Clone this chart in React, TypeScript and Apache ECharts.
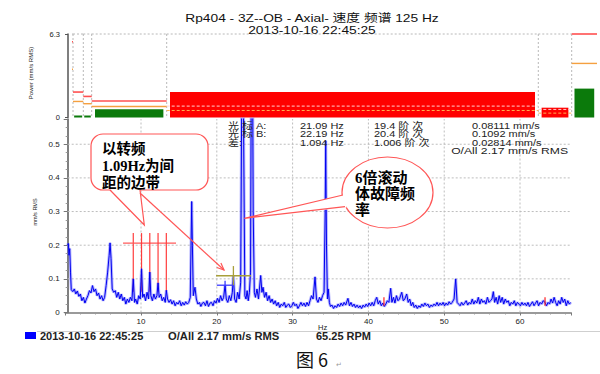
import React, { useEffect, useRef } from "react";
import * as echarts from "echarts";

const FONT = "Arial, 'Liberation Sans', 'Noto Sans CJK SC', sans-serif";
const CALLOUT_FONT = "'Liberation Serif', 'Noto Sans CJK SC', serif";
const CJK_FONT = "'Noto Sans CJK SC', sans-serif";

const chartTitle = "Rp404 - 3Z--OB - Axial- 速度 频谱 125 Hz";
const chartTime = "2013-10-16 22:45:25";
const overallText = "O/All 2.17 mm/s RMS";
const rpmText = "65.25 RPM";
const figureCaption = "图 6";
const topAxisName = "Power (mm/s RMS)";
const lowAxisName = "mm/s RMS";

// top "power band" panel
const bandStart = [4, 5, 15.3, 23.7, 98.7, 470.3, 503.7];
const bandEnd = [5, 15.3, 23.7, 98.7, 470.3, 503.7, 529];
const bandLevel = [0, 0.15, 0.15, 0.63, 1.92, 0.74, 2.18];
const bandAlert = [5.72, 1.92, 1.59, 1.24, 0.86, 0.61, 6.3];
const bandWarn = [3.64, 1.21, 1.04, 0.83, 0.53, 0.33, 4.08];
const powerMax = 6.3;

// spectrum [Hz, mm/s]
const spectrum: [number, number][] = [
  [0.33,0.2],[0.42,0.205],[0.5,0.17],[0.6,0.19],[0.7,0.12],[0.8,0.068],[1.0,0.062],[1.2,0.07],[1.4,0.055],[1.6,0.064],
  [1.8,0.048],[2.0,0.055],[2.2,0.035],[2.4,0.045],[2.6,0.028],[2.8,0.04],[3.0,0.05],[3.2,0.065],[3.4,0.058],[3.6,0.08],
  [3.8,0.062],[4.0,0.07],[4.2,0.05],[4.4,0.058],[4.6,0.04],[4.8,0.05],[5.0,0.035],[5.2,0.045],[5.4,0.08],[5.6,0.12],
  [5.8,0.17],[5.92,0.207],[6.05,0.16],[6.2,0.07],[6.4,0.06],[6.6,0.065],[6.8,0.045],[7.0,0.06],[7.2,0.04],[7.4,0.055],
  [7.6,0.035],[7.8,0.045],[8.0,0.025],[8.2,0.04],[8.4,0.03],[8.6,0.045],[8.8,0.035],[8.98,0.1],[9.15,0.03],[9.3,0.04],
  [9.5,0.025],[9.7,0.05],[9.9,0.04],[10.07,0.13],[10.22,0.045],[10.4,0.055],[10.6,0.035],[10.8,0.06],[11.0,0.04],[11.16,0.12],
  [11.3,0.05],[11.5,0.035],[11.7,0.055],[11.9,0.04],[12.1,0.05],[12.25,0.088],[12.4,0.045],[12.6,0.055],[12.8,0.035],[13.0,0.045],
  [13.2,0.03],[13.34,0.066],[13.5,0.04],[13.7,0.03],[13.9,0.038],[14.1,0.025],[14.3,0.035],[14.5,0.02],[14.7,0.03],[14.9,0.025],
  [15.1,0.035],[15.3,0.02],[15.5,0.03],[15.7,0.022],[15.9,0.032],[16.1,0.025],[16.3,0.03],[16.5,0.045],[16.6,0.2],[16.69,0.33],
  [16.78,0.2],[16.9,0.05],[17.12,0.075],[17.3,0.04],[17.5,0.025],[17.7,0.03],[17.9,0.018],[18.1,0.028],[18.3,0.03],[18.5,0.02],
  [18.7,0.035],[18.9,0.018],[19.1,0.028],[19.3,0.03],[19.5,0.02],[19.7,0.035],[19.9,0.028],[20.1,0.042],[20.3,0.03],[20.5,0.05],
  [20.7,0.035],[20.9,0.045],[21.09,0.081],[21.25,0.04],[21.45,0.03],[21.65,0.05],[21.85,0.035],[22.05,0.06],[22.19,0.109],[22.35,0.04],
  [22.55,0.03],[22.75,0.06],[22.95,0.04],[23.15,0.09],[23.3,0.7],[23.42,0.95],[23.55,0.5],[23.7,0.05],[23.85,0.04],[24.0,0.065],
  [24.15,0.035],[24.3,0.06],[24.45,0.12],[24.57,0.85],[24.68,0.95],[24.8,0.3],[24.95,0.06],[25.1,0.045],[25.3,0.07],[25.5,0.04],
  [25.79,0.11],[25.95,0.06],[26.1,0.075],[26.3,0.045],[26.5,0.06],[26.7,0.035],[26.9,0.05],[27.1,0.03],[27.3,0.04],[27.5,0.025],
  [27.7,0.035],[27.9,0.02],[28.1,0.03],[28.3,0.015],[28.5,0.025],[28.7,0.02],[28.9,0.03],[29.1,0.015],[29.3,0.022],[29.5,0.025],
  [29.7,0.015],[29.9,0.02],[30.1,0.03],[30.3,0.02],[30.5,0.025],[30.7,0.012],[30.9,0.02],[31.1,0.03],[31.3,0.02],[31.5,0.028],
  [31.7,0.018],[31.9,0.03],[32.1,0.02],[32.3,0.035],[32.5,0.05],[32.7,0.04],[32.96,0.106],[33.15,0.04],[33.35,0.03],[33.55,0.045],
  [33.75,0.035],[33.95,0.05],[34.15,0.06],[34.3,0.3],[34.37,0.51],[34.47,0.2],[34.6,0.04],[34.71,0.07],[34.85,0.03],[35.0,0.018],
  [35.2,0.022],[35.4,0.012],[35.6,0.02],[35.8,0.015],[36.0,0.025],[36.2,0.018],[36.4,0.028],[36.6,0.02],[36.8,0.03],[37.0,0.022],
  [37.3,0.042],[37.5,0.02],[37.7,0.03],[37.9,0.018],[38.1,0.025],[38.3,0.015],[38.5,0.022],[38.7,0.014],[38.9,0.02],[39.1,0.012],
  [39.3,0.022],[39.5,0.016],[39.7,0.025],[39.9,0.018],[40.1,0.028],[40.3,0.02],[40.5,0.03],[40.7,0.02],[40.9,0.035],[41.1,0.045],
  [41.3,0.025],[41.5,0.035],[41.7,0.02],[41.9,0.028],[42.1,0.018],[42.3,0.025],[42.5,0.035],[42.7,0.03],[42.94,0.072],[43.1,0.03],
  [43.3,0.045],[43.5,0.028],[43.7,0.05],[43.9,0.035],[44.1,0.04],[44.4,0.06],[44.6,0.035],[44.8,0.04],[45.05,0.055],[45.25,0.03],
  [45.45,0.04],[45.65,0.02],[45.85,0.03],[46.05,0.015],[46.25,0.022],[46.45,0.012],[46.65,0.02],[46.85,0.015],[47.05,0.025],[47.25,0.018],
  [47.45,0.028],[47.65,0.02],[47.85,0.025],[48.05,0.015],[48.25,0.022],[48.45,0.018],[48.65,0.025],[48.85,0.02],[49.05,0.03],[49.25,0.02],
  [49.45,0.028],[49.65,0.022],[49.85,0.03],[50.05,0.02],[50.25,0.028],[50.45,0.022],[50.65,0.032],[50.85,0.025],[51.05,0.03],[51.3,0.04],
  [51.52,0.1],[51.7,0.03],[51.9,0.025],[52.1,0.02],[52.3,0.03],[52.5,0.022],[52.7,0.028],[52.9,0.035],[53.1,0.022],[53.3,0.03],
  [53.5,0.025],[53.7,0.04],[53.9,0.025],[54.1,0.035],[54.3,0.028],[54.5,0.045],[54.7,0.025],[54.9,0.04],[55.1,0.03],[55.3,0.035],
  [55.5,0.025],[55.7,0.045],[55.9,0.03],[56.1,0.035],[56.3,0.04],[56.48,0.062],[56.65,0.03],[56.85,0.045],[57.05,0.025],[57.25,0.05],
  [57.45,0.03],[57.65,0.045],[57.85,0.025],[58.05,0.04],[58.25,0.03],[58.45,0.035],[58.65,0.02],[58.85,0.03],[59.05,0.025],[59.25,0.035],
  [59.45,0.02],[59.65,0.03],[59.85,0.025],[60.05,0.02],[60.25,0.03],[60.45,0.022],[60.65,0.028],[60.85,0.02],[61.05,0.03],[61.25,0.018],
  [61.45,0.025],[61.65,0.032],[61.85,0.02],[62.05,0.028],[62.25,0.035],[62.45,0.02],[62.65,0.03],[62.85,0.025],[63.05,0.035],[63.3,0.03],
  [63.5,0.02],[63.7,0.03],[63.9,0.025],[64.1,0.04],[64.3,0.028],[64.5,0.045],[64.7,0.03],[64.9,0.02],[65.1,0.035],[65.3,0.025],
  [65.5,0.045],[65.7,0.03],[65.9,0.04],[66.1,0.02],[66.3,0.035],[66.5,0.025],[66.7,0.03],
];
const freqMax = 66.7;
const magMax = 0.575;
const freqGridTicks = [10, 20, 30, 40, 50, 60];
const magGridTicks = [0.1, 0.2, 0.3, 0.4, 0.5];

// annotations in data units
const sidebandFreqs = [8.98, 10.07, 11.16, 12.25, 13.34];
const sidebandTop = 0.236;
const sidebandBottom = 0.062;
const sidebandBar = [7.63, 14.62, 0.206];
const cursorA = { freq: 21.09, value: 0.0811, from: 20.0, to: 22.1, tickTop: 0.094 };
const cursorB = { freq: 22.19, value: 0.1092, from: 19.9, to: 24.5, tickTop: 0.138, tickBottom: 0.081 };
const harmonicMarks = [42.05, 63.3];
const harmonicSpan = [0.02, 0.045];

const readoutRows = [
  ["光 标 A:", "21.09 Hz", "19.4 阶 次", "0.08111 mm/s"],
  ["光 标 B:", "22.19 Hz", "20.4 阶 次", "0.1092 mm/s"],
  ["差:", "1.094 Hz", "1.006 阶 次", "0.02814 mm/s"],
];
const calloutLeft = ["以转频", "1.09Hz为间", "距的边带"];
const calloutRight = ["6倍滚动", "体故障频", "率"];

function txt(text: string, x: number, y: number, o: any = {}) {
  return {
    type: "text",
    x,
    y,
    z: 100,
    scaleX: o.scaleX ?? 1,
    rotation: o.rotation ?? 0,
    style: {
      text,
      fontSize: o.size ?? 9,
      fontFamily: o.family ?? FONT,
      fontWeight: o.weight ?? "normal",
      fill: o.fill ?? "#222",
      align: o.align ?? "left",
      textAlign: o.align ?? "left",
      verticalAlign: "middle",
      textVerticalAlign: "middle",
    },
  };
}

function seg(p1: number[], p2: number[], stroke: string, lineWidth = 1, lineDash?: number[]) {
  return {
    type: "line",
    shape: { x1: p1[0], y1: p1[1], x2: p2[0], y2: p2[1] },
    style: { stroke, lineWidth, lineDash },
  };
}

function buildOption() {
  const CALLOUT = "#ff5656";
  const graphics: any[] = [];
  graphics.push(txt(chartTitle, 312, 18, { size: 11, scaleX: 1.25, align: "center", fill: "#111" }));
  graphics.push(txt(chartTime, 312, 30, { size: 11, scaleX: 1.25, align: "center", fill: "#111" }));
  graphics.push(txt(topAxisName, 31, 73, { size: 6, rotation: Math.PI / 2, align: "center" }));
  graphics.push(txt(lowAxisName, 35, 212, { size: 5.5, rotation: Math.PI / 2, align: "center" }));

  const cols = [228, 300, 374, 472];
  const rows = [125.5, 134, 142.5];
  readoutRows.forEach((r, i) =>
    r.forEach((t, j) => graphics.push(txt(t, cols[j], rows[i], { size: 9, scaleX: 1.22 })))
  );
  graphics.push(txt(overallText, 568, 151, { size: 9.5, scaleX: 1.28, align: "right" }));

  // left callout (rounded rectangle)
  graphics.push({ type: "rect", z: 100, shape: { x: 91, y: 134, width: 117, height: 56, r: 12 }, style: { fill: "#fff", stroke: CALLOUT, lineWidth: 1.2 } });
  graphics.push({ type: "polygon", z: 100, shape: { points: [[110, 189], [144.3, 225], [140, 189]] }, style: { fill: "#fff" } });
  graphics.push({ type: "polyline", z: 100, shape: { points: [[110, 190], [144.3, 225], [140, 190]] }, style: { stroke: CALLOUT, lineWidth: 1.2, fill: null } });
  calloutLeft.forEach((t, i) => graphics.push(txt(t, 102, 149 + i * 17, { size: 14.5, weight: "bold", family: CALLOUT_FONT, fill: "#000" })));
  graphics.push({ type: "line", z: 100, shape: { x1: 140, y1: 193, x2: 224, y2: 270 }, style: { stroke: CALLOUT, lineWidth: 1.2 } });
  graphics.push({ type: "polyline", z: 100, shape: { points: [[216.8, 267.5], [224, 270], [220.9, 263.1]] }, style: { stroke: CALLOUT, lineWidth: 1.2, fill: null } });

  // right callout (ellipse)
  graphics.push({ type: "ellipse", z: 100, shape: { cx: 387.5, cy: 192.5, rx: 45.5, ry: 35.5 }, style: { fill: "#fff", stroke: CALLOUT, lineWidth: 1.2 } });
  graphics.push({ type: "polygon", z: 100, shape: { points: [[344, 194.5], [244.3, 218.3], [346.5, 207.5]] }, style: { fill: "#fff" } });
  graphics.push({ type: "polyline", z: 100, shape: { points: [[343, 195], [244.3, 218.3], [345, 206.7]] }, style: { stroke: CALLOUT, lineWidth: 1.2, fill: null } });
  calloutRight.forEach((t, i) => graphics.push(txt(t, 355, 178 + i * 16, { size: 15, weight: "bold", family: CALLOUT_FONT, fill: "#000" })));

  // x axis unit, legend, caption
  graphics.push(txt("Hz", 318, 327.5, { size: 7.5 }));
  graphics.push({ type: "line", z: 100, shape: { x1: 37, y1: 331.5, x2: 600, y2: 331.5 }, style: { stroke: "#cfcfcf", lineWidth: 1 } });
  graphics.push({ type: "rect", z: 100, shape: { x: 25, y: 332, width: 11, height: 7 }, style: { fill: "#0000ff" } });
  graphics.push(txt(chartTime, 40, 336, { size: 10, weight: "bold", scaleX: 1.1 }));
  graphics.push(txt(overallText, 168, 336, { size: 10, weight: "bold", scaleX: 1.12 }));
  graphics.push(txt(rpmText, 316, 336, { size: 10, weight: "bold", scaleX: 1.1 }));
  graphics.push(txt(figureCaption, 296, 359, { size: 18, family: CJK_FONT, fill: "#111" }));
  graphics.push(txt("↵", 336, 364, { size: 7, family: FONT, fill: "#999" }));

  const axisLabelBase = { color: "#222", fontFamily: FONT };

  return {
    animation: false,
    backgroundColor: "#ffffff",
    grid: [
      { left: 68, right: 3, top: 34, height: 83.5 },
      { left: 65.2, right: 29.2, top: 119, height: 193.5 },
    ],
    xAxis: [
      { gridIndex: 0, type: "value", min: 0, max: 529, show: false },
      {
        gridIndex: 1,
        type: "value",
        min: 0,
        max: freqMax,
        interval: 10,
        axisLine: { show: true, lineStyle: { color: "#7a7a7a", width: 1.5 } },
        axisTick: { show: true, length: 3, lineStyle: { color: "#7a7a7a" } },
        minorTick: { show: true, splitNumber: 5, length: 2, lineStyle: { color: "#9a9a9a" } },
        axisLabel: { ...axisLabelBase, fontSize: 8, margin: 5, showMinLabel: false, showMaxLabel: false },
        splitLine: { show: false },
      },
    ],
    yAxis: [
      {
        gridIndex: 0,
        type: "value",
        min: 0,
        max: powerMax,
        interval: powerMax,
        axisLine: { show: true, lineStyle: { color: "#555", width: 1.5 } },
        axisTick: { show: true, length: 3, lineStyle: { color: "#555" } },
        axisLabel: { ...axisLabelBase, fontSize: 7.5, margin: 8 },
        splitLine: { show: false },
      },
      {
        gridIndex: 1,
        type: "value",
        min: 0,
        max: magMax,
        interval: 0.1,
        offset: -2.5,
        axisLine: { show: true, lineStyle: { color: "#555", width: 1.5 } },
        axisTick: { show: true, length: 4, lineStyle: { color: "#777" } },
        minorTick: { show: true, splitNumber: 4, length: 2, lineStyle: { color: "#999" } },
        axisLabel: { ...axisLabelBase, fontSize: 8, margin: 8, showMaxLabel: false },
        splitLine: { show: false },
      },
    ],
    series: [
      {
        type: "custom",
        xAxisIndex: 0,
        yAxisIndex: 0,
        silent: true,
        data: bandStart.map((s, i) => [s, bandEnd[i], bandLevel[i], bandAlert[i], bandWarn[i]]),
        renderItem: (params: any, api: any) => {
          const s = api.value(0), e = api.value(1), lv = api.value(2), al = api.value(3), wn = api.value(4);
          const [x0, yBase] = api.coord([s, 0]);
          const x1 = api.coord([e, 0])[0];
          const yTop = api.coord([s, powerMax])[1];
          const w = x1 - x0;
          const inset = Math.min(3.3, w * 0.11);
          const over = lv > al;
          const children: any[] = [];
          const last = params.dataIndex === bandStart.length - 1;
          if (!last) {
            children.push(seg([x0, yTop], [x1, yTop], "#b8b8b8", 1, [2, 2]));
            children.push(seg([x1, yTop], [x1, yBase], "#b8b8b8", 1, [2, 2]));
          }
          if (lv > 0) {
            const yl = api.coord([s, lv])[1];
            children.push({
              type: "rect",
              shape: { x: x0 + inset, y: yl, width: w - 2 * inset, height: yBase - yl },
              style: { fill: over ? "#ff0000" : "#0b7a0b" },
            });
          }
          const ya = api.coord([s, al])[1];
          const yw = api.coord([s, wn])[1];
          if (over) {
            children.push(seg([x0, ya], [x1, ya], "#ffd0d0", 1, [3, 2]));
            children.push(seg([x0, yw], [x1, yw], "#ffb050", 1, [3, 2]));
          } else {
            children.push(seg([x0, ya], [x1, ya], "#ff5050", 1.6));
            children.push(seg([x0, yw], [x1, yw], "#f5a040", 1.4));
          }
          return { type: "group", children };
        },
      },
      {
        type: "custom",
        xAxisIndex: 1,
        yAxisIndex: 1,
        silent: true,
        z: 1,
        data: [[0, 0]],
        renderItem: (_p: any, api: any) => {
          const children: any[] = [];
          freqGridTicks.forEach((f) => {
            children.push(seg(api.coord([f, 0]), api.coord([f, magMax]), "#bdbdbd", 1, [2, 2]));
          });
          magGridTicks.forEach((m) => {
            children.push(seg(api.coord([0.33, m]), api.coord([freqMax, m]), "#bdbdbd", 1, [2, 2]));
          });
          return { type: "group", children };
        },
      },
      {
        type: "custom",
        xAxisIndex: 1,
        yAxisIndex: 1,
        silent: true,
        z: 2,
        data: sidebandFreqs.map((f) => [f, sidebandTop, sidebandBottom]),
        renderItem: (params: any, api: any) => {
          const f = api.value(0);
          const children: any[] = [seg(api.coord([f, api.value(1)]), api.coord([f, api.value(2)]), "#ff3c3c", 1.2)];
          if (params.dataIndex === 0) {
            children.push(seg(api.coord([sidebandBar[0], sidebandBar[2]]), api.coord([sidebandBar[1], sidebandBar[2]]), "#ff5a5a", 1.2));
          }
          return { type: "group", children };
        },
      },
      {
        type: "line",
        xAxisIndex: 1,
        yAxisIndex: 1,
        data: spectrum,
        symbol: "none",
        silent: true,
        z: 3,
        lineStyle: { color: "rgba(95,95,255,0.45)", width: 3 },
      },
      {
        type: "line",
        xAxisIndex: 1,
        yAxisIndex: 1,
        data: spectrum,
        symbol: "none",
        silent: true,
        z: 4,
        lineStyle: { color: "#0000f0", width: 1 },
      },
      {
        type: "custom",
        xAxisIndex: 1,
        yAxisIndex: 1,
        silent: true,
        z: 5,
        data: [[cursorA.freq, cursorA.value]],
        renderItem: (_p: any, api: any) => {
          const children: any[] = [
            seg(api.coord([cursorA.from, cursorA.value]), api.coord([cursorA.to, cursorA.value]), "#3b3bff", 1.3),
            seg(api.coord([cursorA.freq, cursorA.value]), api.coord([cursorA.freq, cursorA.tickTop]), "#3b3bff", 1.3),
            seg(api.coord([cursorB.from, cursorB.value]), api.coord([cursorB.to, cursorB.value]), "#a89f3a", 1.3),
            seg(api.coord([cursorB.freq, cursorB.tickBottom]), api.coord([cursorB.freq, cursorB.tickTop]), "#a89f3a", 1.3),
          ];
          harmonicMarks.forEach((f) => {
            children.push(seg(api.coord([f, harmonicSpan[0]]), api.coord([f, harmonicSpan[1]]), "#ff2020", 1.2));
          });
          return { type: "group", children };
        },
      },
    ],
    graphic: graphics,
  };
}

export default function App() {
  const ref = useRef<HTMLDivElement>(null);
  useEffect(() => {
    if (!ref.current) return;
    const chart = echarts.init(ref.current, null, { renderer: "svg" });
    chart.setOption(buildOption() as any);
    return () => chart.dispose();
  }, []);
  return (
    <div
      ref={ref}
      style={{ position: "fixed", left: 0, top: 0, width: 600, height: 374, background: "#fff" }}
    />
  );
}
